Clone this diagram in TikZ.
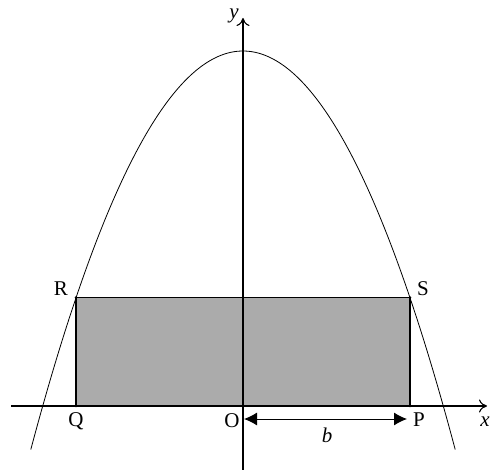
\documentclass[tikz,border=0pt]{standalone}
\usepackage{fontspec}
\setmainfont{Liberation Serif}
\usetikzlibrary{arrows.meta}
\begin{document}
\begin{tikzpicture}[x=1pt,y=-1pt,
  lbl/.style={inner sep=0pt,font=\fontsize{21}{25}\selectfont},
  axis/.style={line width=1.1pt,-{To[length=8pt,width=13pt]}},
  curve/.style={line width=0.8pt},
  dimarrow/.style={line width=1pt,{Latex[length=13pt,width=13pt]}-{Latex[length=13pt,width=13pt]}}]
\useasboundingbox (0,0) rectangle (492,470);
% corners
\coordinate (Q) at (76,406);
\coordinate (P) at (410,406);
\coordinate (S) at (410,297.5);
\coordinate (R) at (76,297.5);
\coordinate (O) at (243,406);
% rectangle
\filldraw[fill=black!33,draw=black,line width=1.2pt] (Q) -- (P) -- (S) -- (R) -- cycle;
% axes
\coordinate (xs) at (11,406);
\coordinate (xe) at (487,406);
\coordinate (ys) at (243,470);
\coordinate (ye) at (243,18);
\draw[axis] (xs) -- (xe);
\draw[axis] (ys) -- (ye);
% parabola
\draw[curve] plot[domain=30.8:455.2,samples=120,smooth] (\x,{51+0.008857*(\x-243)*(\x-243)});
% dots
\foreach \p in {Q,P,R,S,O} \fill (\p) circle[radius=1.3pt];
% dimension arrow
\coordinate (bl) at (244,419);
\coordinate (br) at (407,419);
\draw[dimarrow] (bl) -- (br);
% labels
\node[lbl] (lR) at (61,289) {R};
\node[lbl] (lS) at (423,289) {S};
\node[lbl] (lQ) at (76,421) {Q};
\node[lbl] (lO) at (232,421) {O};
\node[lbl] (lP) at (419,420) {P};
\node[lbl] (lb) at (327,435) {\itshape b};
\node[lbl] (lx) at (485,422) {\itshape x};
\node[lbl] (ly) at (234,16) {\itshape y};
\end{tikzpicture}
\end{document}
